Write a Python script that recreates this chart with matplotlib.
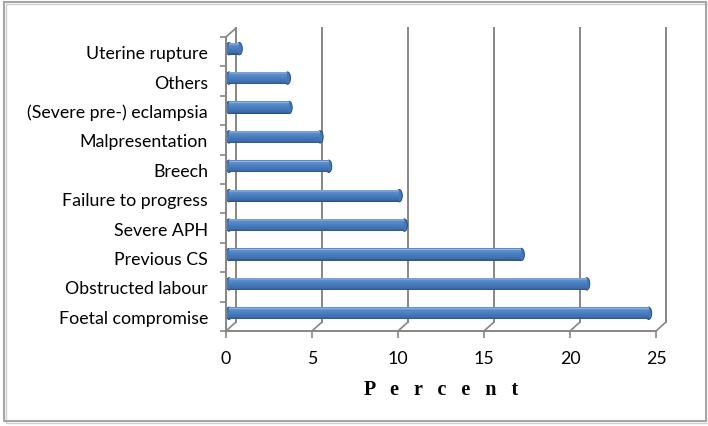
import matplotlib
matplotlib.use("Agg")
import matplotlib.pyplot as plt
from matplotlib.transforms import ScaledTranslation
from matplotlib.patches import ConnectionPatch, Rectangle, Ellipse
from matplotlib.colors import to_rgb
import numpy as np

categories = ["Foetal compromise", "Obstructed labour", "Previous CS", "Severe APH",
              "Failure to progress", "Breech", "Malpresentation",
              "(Severe pre-) eclampsia", "Others", "Uterine rupture"]
values = [24.4, 20.8, 17.0, 10.2, 9.9, 5.8, 5.3, 3.5, 3.4, 0.6]
xticks = [0, 5, 10, 15, 20, 25]
xlabel = "P   e   r   c   e   n   t"

W, H, DPI = 708, 427, 100
fig = plt.figure(figsize=(W / DPI, H / DPI), dpi=DPI)
fig.patch.set_facecolor("white")

# outer frame
fig.add_artist(Rectangle((4 / W, 5 / H), 702 / W, 419 / H, transform=fig.transFigure,
                         fill=False, edgecolor="#a6a6a6", lw=1.5))
fig.add_artist(Rectangle((6 / W, 3 / H), 702 / W, 419 / H, transform=fig.transFigure,
                         fill=False, edgecolor="#d0d0d0", lw=1.0, zorder=-1))

left, right, bottom, top = 226, 656, 332, 38
ax = fig.add_axes([left / W, 1 - bottom / H, (right - left) / W, (bottom - top) / H])
ax.set_xlim(0, 25)
ax.set_ylim(-0.5, len(categories) - 0.5)
ax.patch.set_alpha(0)

grey = "#868686"
back = ax.transData + ScaledTranslation(10 / DPI, 9 / DPI, fig.dpi_scale_trans)
barT = ax.transData + ScaledTranslation(3 / DPI, 3 / DPI, fig.dpi_scale_trans)

ymin, ymax = -0.5, len(categories) - 0.5
for v in xticks:
    ax.plot([v, v], [ymin, ymax], color=grey, lw=1.4, transform=back, clip_on=False, zorder=1)
    ax.add_artist(ConnectionPatch(xyA=(v, ymin), coordsA=ax.transData, xyB=(v, ymin), coordsB=back,
                                  color=grey, lw=1.2, zorder=1))
ax.add_artist(ConnectionPatch(xyA=(0, ymax), coordsA=ax.transData, xyB=(0, ymax), coordsB=back,
                              color=grey, lw=1.2, zorder=1))

y = np.arange(len(categories))
bar_h = 0.42
px_per_unit = (right - left) / 25.0
cap_w = 6 / px_per_unit

# rounded end caps drawn under the bar body
for yi, v in zip(y, values):
    for xc in (0, v):
        e = Ellipse((xc, yi), cap_w, bar_h, facecolor="#4277b8", edgecolor="#2a4f7f", lw=0.7,
                    zorder=2.5, clip_on=False)
        ax.add_patch(e)
        e.set_transform(barT)

# vertical colour profile of the cylinder (bottom -> top)
stops = [(0.0, "#2b5285"), (0.18, "#3d6caa"), (0.55, "#4c80c0"), (0.8, "#5a8ccb"),
         (0.9, "#8db2e2"), (1.0, "#5485c4")]
n = 24
pos = np.array([s[0] for s in stops])
cols = np.array([to_rgb(s[1]) for s in stops])
for i in range(n):
    f0, f1 = i / n, (i + 1) / n
    fm = (f0 + f1) / 2
    c = [np.interp(fm, pos, cols[:, k]) for k in range(3)]
    bars = ax.barh(y - bar_h / 2 + f0 * bar_h, values, height=bar_h / n * 1.05, left=0,
                   align="edge", color=c, edgecolor="none", zorder=3)
    for p in bars.patches:
        p.set_transform(barT)
        p.set_clip_on(False)

for s in ["top", "right"]:
    ax.spines[s].set_visible(False)
for s in ["left", "bottom"]:
    ax.spines[s].set_color(grey)
    ax.spines[s].set_linewidth(1.4)

ax.set_yticks(y)
ax.set_yticklabels(categories, fontsize=12.8, family="Lato")
ax.set_yticks(np.arange(-0.5, len(categories), 1.0), minor=True)
ax.tick_params(axis="y", which="major", length=0, pad=13)
ax.tick_params(axis="y", which="minor", length=4, color=grey, width=1.2)

ax.set_xticks(xticks)
ax.set_xticklabels([str(t) for t in xticks], fontsize=12.8, family="Lato")
ax.tick_params(axis="x", length=5, color=grey, width=1.2, pad=9)

ax.set_xlabel(xlabel, fontsize=14.5, family="Liberation Serif", fontweight="bold", labelpad=9)

fig.savefig("out.png", dpi=DPI)
